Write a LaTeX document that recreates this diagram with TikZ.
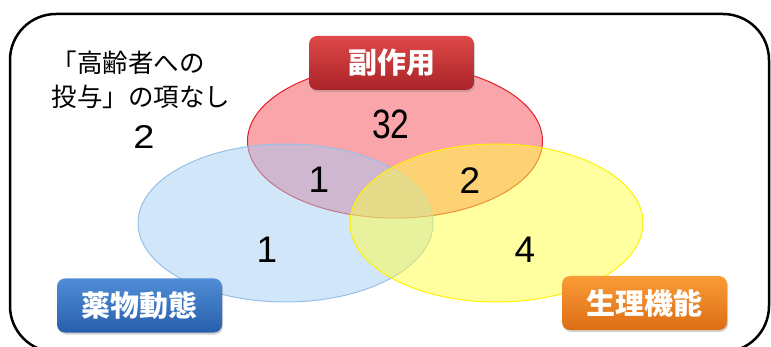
\documentclass[tikz,border=0pt]{standalone}
\usepackage{fontspec}
\setmainfont{Liberation Sans}
\newfontfamily\jp{Noto Sans CJK JP}
\usetikzlibrary{shadows}

\definecolor{setred}{RGB}{245,75,85}
\definecolor{setblue}{RGB}{165,205,245}
\definecolor{setyellow}{RGB}{255,255,65}
\definecolor{rimred}{RGB}{225,30,40}
\definecolor{rimblue}{RGB}{150,192,232}
\definecolor{rimyellow}{RGB}{255,240,0}

\tikzset{
	setfill/.style={fill opacity=0.5, draw opacity=1, line width=1pt},
	tag/.style={rounded corners=8pt, minimum width=165pt, minimum height=54pt,
		text=white, font=\jp\bfseries\fontsize{29}{32}\selectfont,
		drop shadow={shadow xshift=1pt, shadow yshift=-2pt, opacity=0.35}},
	count/.style={font=\fontsize{37}{40}\selectfont}
}

\begin{document}
\begin{tikzpicture}[x=1pt, y=-1pt]
		\useasboundingbox (0,0) rectangle (771,347);
		\draw[line width=2.5pt, rounded corners=46pt] (10,14) rectangle (769,352);

		\fill[setfill, fill=setred, draw=rimred] (395,141) ellipse (147.5 and 77);
		\fill[setfill, fill=setblue, draw=rimblue] (285.5,223) ellipse (147.5 and 79);
		\fill[setfill, fill=setyellow, draw=rimyellow] (496.5,223) ellipse (146.5 and 79);

		\node (none) [align=left, font=\jp\fontsize{25.5}{34}\selectfont] at (141,80)
			{「高齢者への\\投与」の項なし};
		\node (nonecount) [font=\fontsize{33}{36}\selectfont, xscale=1.15] at (144,137) {2};

		\node (onlyside) [count, xscale=0.82, font=\fontsize{41}{44}\selectfont] at (391,124) {32};
		\node (sidekin) [count] at (319,180) {1};
		\node (sidephys) [count] at (470,181) {2};
		\node (onlykin) [count] at (267,250) {1};
		\node (onlyphys) [count] at (525,250) {4};

		\node (side) [tag, top color={rgb,255:red,222;green,72;blue,72}, bottom color={rgb,255:red,170;green,35;blue,40}]
			at (391.5,63) {副作用};
		\node (kin) [tag, top color={rgb,255:red,80;green,140;blue,215}, bottom color={rgb,255:red,40;green,95;blue,170}]
			at (139.5,305.5) {薬物動態};
		\node (phys) [tag, top color={rgb,255:red,250;green,155;blue,55}, bottom color={rgb,255:red,220;green,110;blue,20}]
			at (644.5,303) {生理機能};
	\end{tikzpicture}
\end{document}
